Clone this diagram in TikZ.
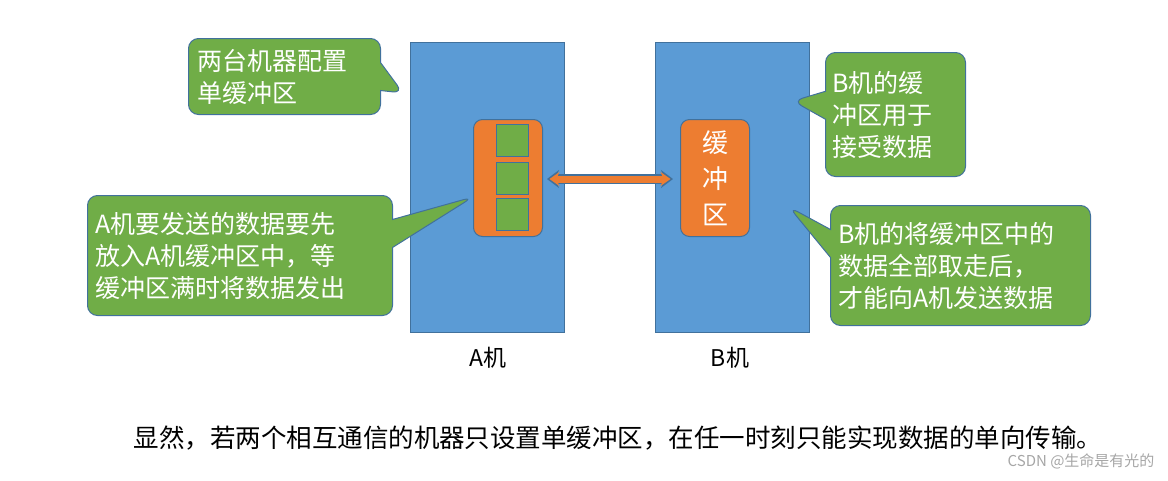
\documentclass[tikz,border=0pt]{standalone}
\usepackage{fontspec}
\setmainfont{Noto Sans CJK SC}
\usetikzlibrary{shapes.callouts,arrows.meta}
\definecolor{blu}{HTML}{5B9BD5}
\definecolor{blud}{HTML}{41719C}
\definecolor{org}{HTML}{ED7D31}
\definecolor{grn}{HTML}{70AD47}
\definecolor{grnd}{HTML}{507E32}
\begin{document}
\begin{tikzpicture}[x=1pt,y=-1pt,
 mach/.style={fill=blu,draw=blud,line width=1pt},
 buf/.style={fill=org,draw=blud,line width=1pt,rounded corners=9pt},
 sq/.style={fill=grn,draw=blud,line width=1pt},
 co/.style={rectangle callout,fill=grn,draw=blud,line width=1pt,rounded corners=10pt,text=white,font=\fontsize{25}{32}\selectfont,align=left,anchor=north west,inner xsep=0pt,callout pointer width=28pt},
 lbl/.style={font=\fontsize{23}{24}\selectfont}]
\useasboundingbox (0,0) rectangle (1168,480);
\node[mach,minimum width=154pt,minimum height=290pt,anchor=north west] (A) at (410,42) {};
\node[mach,minimum width=154pt,minimum height=290pt,anchor=north west] (B) at (655,42) {};
\node[buf,minimum width=69pt,minimum height=117pt,anchor=north west] (ba) at (473,119) {};
\node[sq,minimum size=32pt,anchor=north west] (s1) at (496,124) {};
\node[sq,minimum size=32pt,anchor=north west] (s2) at (496,162) {};
\node[sq,minimum size=32pt,anchor=north west] (s3) at (496,198) {};
\node[buf,minimum width=69pt,minimum height=117pt,anchor=north west,text=white,align=center,font=\fontsize{26}{36}\selectfont] (bb) at (680,119) {缓\\冲\\区};
\draw[blud,line width=9.5pt,{Stealth[length=12pt,width=18pt]}-{Stealth[length=12pt,width=18pt]}] (547,179) -- (673,179);
\draw[org,line width=7pt,{Stealth[length=10pt,width=14pt]}-{Stealth[length=10pt,width=14pt]}] (549.5,179) -- (670.5,179);
\coordinate (p1) at (403,93);
\coordinate (p2) at (793,101);
\coordinate (p3) at (473,197);
\coordinate (p4) at (789,207);
\node[co,text width=174pt,minimum width=192pt,minimum height=76pt,callout absolute pointer=(p1)] (c1) at (188,38) {两台机器配置\\单缓冲区};
\node[co,text width=126pt,minimum width=140pt,minimum height=124pt,callout absolute pointer=(p2)] (c2) at (825,52) {B机的缓\\冲区用于\\接受数据};
\node[co,text width=289pt,minimum width=305pt,minimum height=120pt,callout absolute pointer=(p3)] (c3) at (87,195) {A机要发送的数据要先\\放入A机缓冲区中，等\\缓冲区满时将数据发出};
\node[co,text width=244pt,minimum width=260pt,minimum height=120pt,callout absolute pointer=(p4)] (c4) at (830,205) {B机的将缓冲区中的\\数据全部取走后，\\才能向A机发送数据};
\node[lbl] (la) at (488,358) {A机};
\node[lbl] (lb) at (730,358) {B机};
\node[font=\fontsize{25.5}{28}\selectfont] (t) at (618,438) {显然，若两个相互通信的机器只设置单缓冲区，在任一时刻只能实现数据的单向传输。};
\node[font=\fontsize{15}{17}\selectfont,text=gray!70,anchor=east] (w) at (1158,461) {CSDN @生命是有光的};
\end{tikzpicture}
\end{document}
